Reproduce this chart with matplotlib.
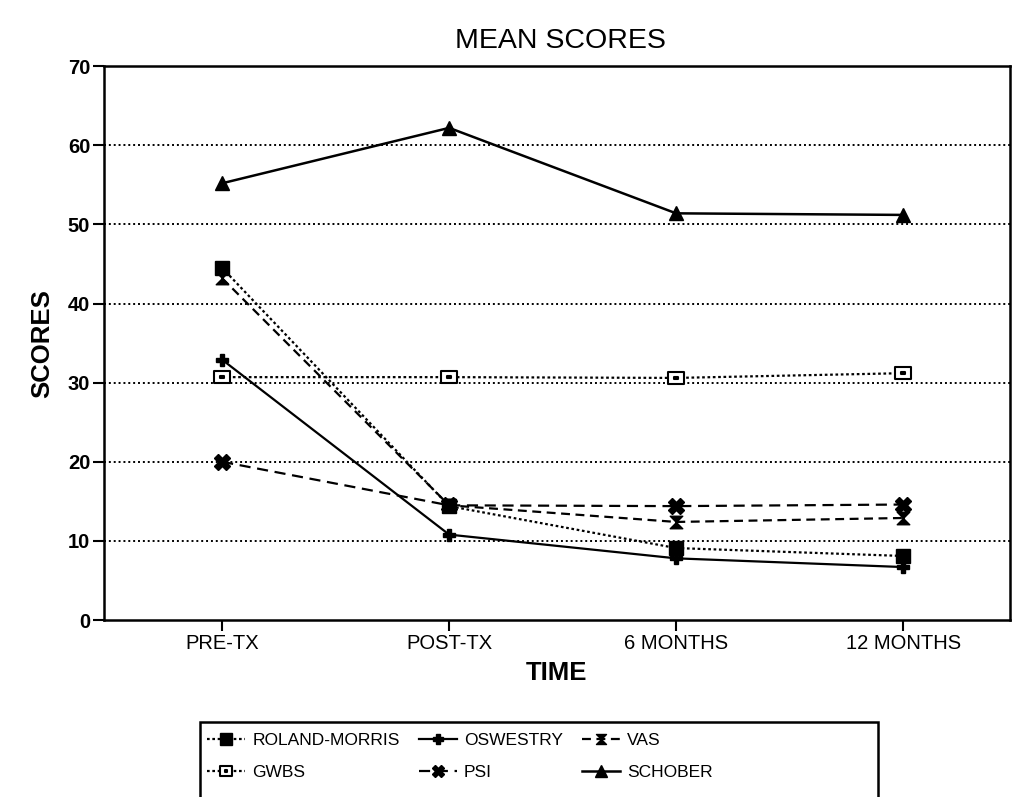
import numpy as np
import matplotlib
matplotlib.use('Agg')
import matplotlib.pyplot as plt
from matplotlib.path import Path
from matplotlib.patches import Rectangle

plt.rcParams['font.family'] = ['Liberation Sans', 'DejaVu Sans']

# data
time_points = ['PRE-TX', 'POST-TX', '6 MONTHS', '12 MONTHS']
roland_morris = [44.5, 14.4, 9.1, 8.1]
oswestry = [32.9, 10.8, 7.8, 6.7]
vas = [43.2, 14.5, 12.4, 12.9]
gwbs = [30.7, 30.7, 30.6, 31.2]
psi = [20.0, 14.5, 14.4, 14.6]
schober = [55.2, 62.2, 51.4, 51.2]
y_ticks = [0, 10, 20, 30, 40, 50, 60, 70]

# custom markers: hourglass for VAS, dotted box for GWBS
hourglass = Path([(-1, 1), (1, 1), (-1, -1), (1, -1), (-1, 1)],
                 [Path.MOVETO, Path.LINETO, Path.LINETO, Path.LINETO, Path.CLOSEPOLY])
dot_box = Path([(-1, -0.8), (1, -0.8), (1, 0.8), (-1, 0.8), (-1, -0.8),
                (-0.2, -0.15), (0.2, -0.15), (0.2, 0.15), (-0.2, 0.15), (-0.2, -0.15)],
               [Path.MOVETO, Path.LINETO, Path.LINETO, Path.LINETO, Path.CLOSEPOLY,
                Path.MOVETO, Path.LINETO, Path.LINETO, Path.LINETO, Path.CLOSEPOLY])

fig = plt.figure(figsize=(10.21, 7.97), dpi=100)
ax = fig.add_axes([0.102, 0.222, 0.887, 0.695])

x = np.arange(len(time_points))
h1, = ax.plot(x, roland_morris, color='black', lw=1.6, ls=(0, (1.2, 1.2)),
              marker='s', ms=10, label='ROLAND-MORRIS')
h2, = ax.plot(x, oswestry, color='black', lw=1.6, ls='-',
              marker='P', ms=9, label='OSWESTRY')
h3, = ax.plot(x, vas, color='black', lw=1.6, ls=(0, (4, 2.5)),
              marker=hourglass, ms=9, label='VAS')
h4, = ax.plot(x, gwbs, color='black', lw=1.6, ls=(0, (1.2, 1.2)),
              marker=dot_box, ms=11, mfc='white', mew=1.5, label='GWBS')
h5, = ax.plot(x, psi, color='black', lw=1.6, ls=(0, (5, 3)),
              marker='X', ms=11, label='PSI')
h6, = ax.plot(x, schober, color='black', lw=1.8, ls='-',
              marker='^', ms=10, label='SCHOBER')

ax.set_xlim(-0.52, 3.47)
ax.set_ylim(0, 70)
ax.set_xticks(x)
ax.set_xticklabels(time_points, fontsize=14.5)
ax.set_yticks(y_ticks)
ax.set_yticklabels([str(v) for v in y_ticks], fontsize=14.5, fontweight='bold')
ax.tick_params(direction='out', length=8, width=1.5, colors='black', pad=2)

for s in ax.spines.values():
    s.set_linewidth(1.8)

# dotted horizontal grid lines inside the plot
for v in y_ticks[1:-1]:
    ax.axhline(v, color='black', lw=1.4, ls=(0, (1, 1.5)), zorder=0)

ax.set_xlabel('TIME', fontsize=18.5, fontweight='bold', labelpad=6)
ax.set_ylabel('SCORES', fontsize=18.5, fontweight='bold', labelpad=10)
fig.text(0.549, 0.948, 'MEAN SCORES', ha='center', va='center', fontsize=20.5)

# legend box runs off the bottom of the page in the scan
fig.patches.append(Rectangle((200 / 1021, -0.05), 678 / 1021, 0.05 + (797 - 722) / 797,
                             transform=fig.transFigure, fill=False,
                             edgecolor='black', lw=1.8))
leg = fig.legend([h1, h4, h2, h5, h3, h6],
                 ['ROLAND-MORRIS', 'GWBS', 'OSWESTRY', 'PSI', 'VAS', 'SCHOBER'],
                 ncol=3, loc='upper left', bbox_to_anchor=(0.203, 0.081),
                 fontsize=12.5, handlelength=2.2, handletextpad=0.4,
                 borderpad=0.0, borderaxespad=0.0, labelspacing=1.0,
                 columnspacing=1.1, frameon=False, markerscale=0.8)

plt.savefig('out.png', dpi=100)
